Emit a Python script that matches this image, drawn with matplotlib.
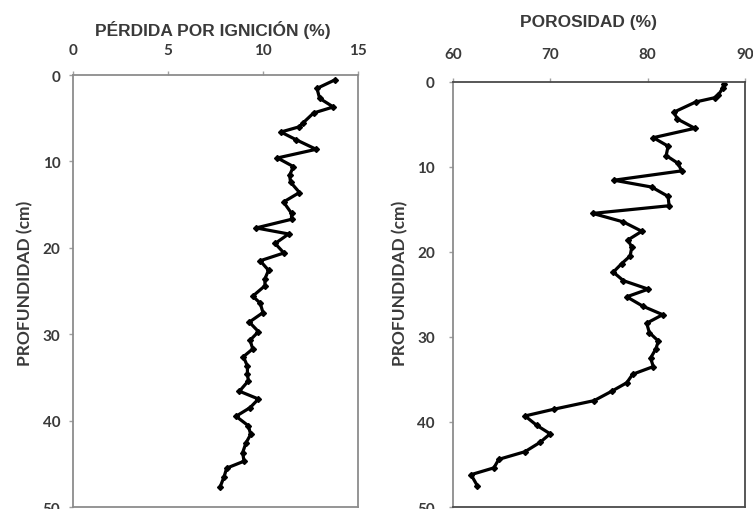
import matplotlib
matplotlib.use("Agg")
from matplotlib import pyplot as plt

# datos
prof_ign = [0.55, 1.55, 2.7, 3.7, 4.4, 5.5, 6.0, 6.6, 7.5, 8.6, 9.6, 10.6, 11.6, 12.4,
            13.6, 14.7, 16.0, 16.7, 17.7, 18.4, 19.5, 20.6, 21.5, 22.6, 23.6, 24.4,
            25.6, 26.4, 27.5, 28.6, 29.7, 30.7, 31.7, 32.6, 33.7, 34.6, 35.4, 36.6,
            37.5, 38.5, 39.5, 40.6, 41.6, 42.6, 43.7, 44.7, 45.5, 46.5, 47.7]
perdida = [13.8, 12.84, 12.98, 13.7, 12.66, 12.13, 11.9, 10.94, 11.75, 12.8, 10.76, 11.6,
           11.4, 11.45, 11.92, 11.08, 11.5, 11.5, 9.64, 11.35, 10.64, 11.1, 9.85, 10.29,
           10.1, 10.1, 9.46, 9.85, 10.0, 9.28, 9.76, 9.32, 9.46, 8.97, 9.18, 9.18, 9.23,
           8.76, 9.76, 9.32, 8.58, 9.23, 9.35, 9.1, 8.93, 9.0, 8.09, 7.95, 7.74]

prof_por = [0.3, 0.8, 1.6, 1.9, 2.4, 3.6, 4.4, 5.5, 6.6, 7.6, 8.7, 9.6, 10.5, 11.6, 12.4,
            13.5, 14.6, 15.5, 16.5, 17.6, 18.6, 19.5, 20.5, 21.4, 22.4, 23.4, 24.4, 25.3,
            26.4, 27.4, 28.4, 29.5, 30.5, 31.4, 32.5, 33.5, 34.4, 35.4, 36.4, 37.5, 38.5,
            39.3, 40.4, 41.4, 42.4, 43.5, 44.4, 45.4, 46.2, 47.5]
porosidad = [87.83, 87.7, 87.25, 86.9, 84.95, 82.7, 83.04, 84.85, 80.58, 82.1, 81.9, 83.1,
             83.5, 76.54, 80.4, 82.1, 82.2, 74.36, 77.5, 79.4, 78.0, 78.36, 78.2, 77.33,
             76.47, 77.5, 80.06, 77.85, 79.5, 81.54, 79.9, 80.17, 81.1, 80.85, 80.3, 80.58,
             78.46, 77.85, 76.3, 74.5, 70.4, 67.4, 68.6, 69.98, 68.95, 67.4, 64.7, 64.2,
             61.85, 62.5]

W, H = 753, 510
txt = '#3a3a3a'
fig = plt.figure(figsize=(W / 100, H / 100), dpi=100)
ax1 = fig.add_axes([73 / W, 2 / H, 285 / W, 432 / H])
ax2 = fig.add_axes([453 / W, 2 / H, 292 / W, 425.5 / H])


def formato(ax, xlim, xticks, color_borde, xpad, ypad):
    ax.set_xlim(*xlim)
    ax.set_ylim(50, 0)
    ax.set_xticks(xticks)
    ax.set_yticks(range(0, 51, 10))
    ax.xaxis.tick_top()
    ax.tick_params(direction='out', length=3, width=1, color='#a0a0a0',
                   labelsize=11, labelcolor=txt)
    ax.tick_params(axis='x', pad=xpad)
    ax.tick_params(axis='y', pad=ypad)
    for lab in ax.get_xticklabels() + ax.get_yticklabels():
        lab.set_family('Lato')
        lab.set_fontweight('bold')
    for s in ax.spines.values():
        s.set_color(color_borde)
        s.set_linewidth(1.3)
    ax.spines['left'].set_color('#8c8c8c')


ax1.plot(perdida, prof_ign, color='black', lw=2.3, marker='D', ms=3)
formato(ax1, (0, 15), [0, 5, 10, 15], '#8c8c8c', 10, 6)

ax2.plot(porosidad, prof_por, color='black', lw=2.3, marker='D', ms=3)
formato(ax2, (60, 90), [60, 70, 80, 90], '#4a4a4a', 11.5, 10)

# títulos y etiquetas en posiciones de píxel
fig.text(213 / W, 1 - 30 / H, 'PÉRDIDA POR IGNICIÓN (%)', family='Liberation Sans',
         fontweight='bold', fontsize=12.5, color=txt, ha='center', va='center')
fig.text(588 / W, 1 - 22 / H, 'POROSIDAD (%)', family='Liberation Sans',
         fontweight='bold', fontsize=12.5, color=txt, ha='center', va='center')
for xp, yp in [(25, 283), (400, 283)]:
    fig.text(xp / W, 1 - yp / H, 'PROFUNDIDAD (cm)', family='Lato', fontweight='bold',
             fontsize=12.5, color=txt, rotation=90, ha='center', va='center')

fig.savefig('out.png', dpi=100)
